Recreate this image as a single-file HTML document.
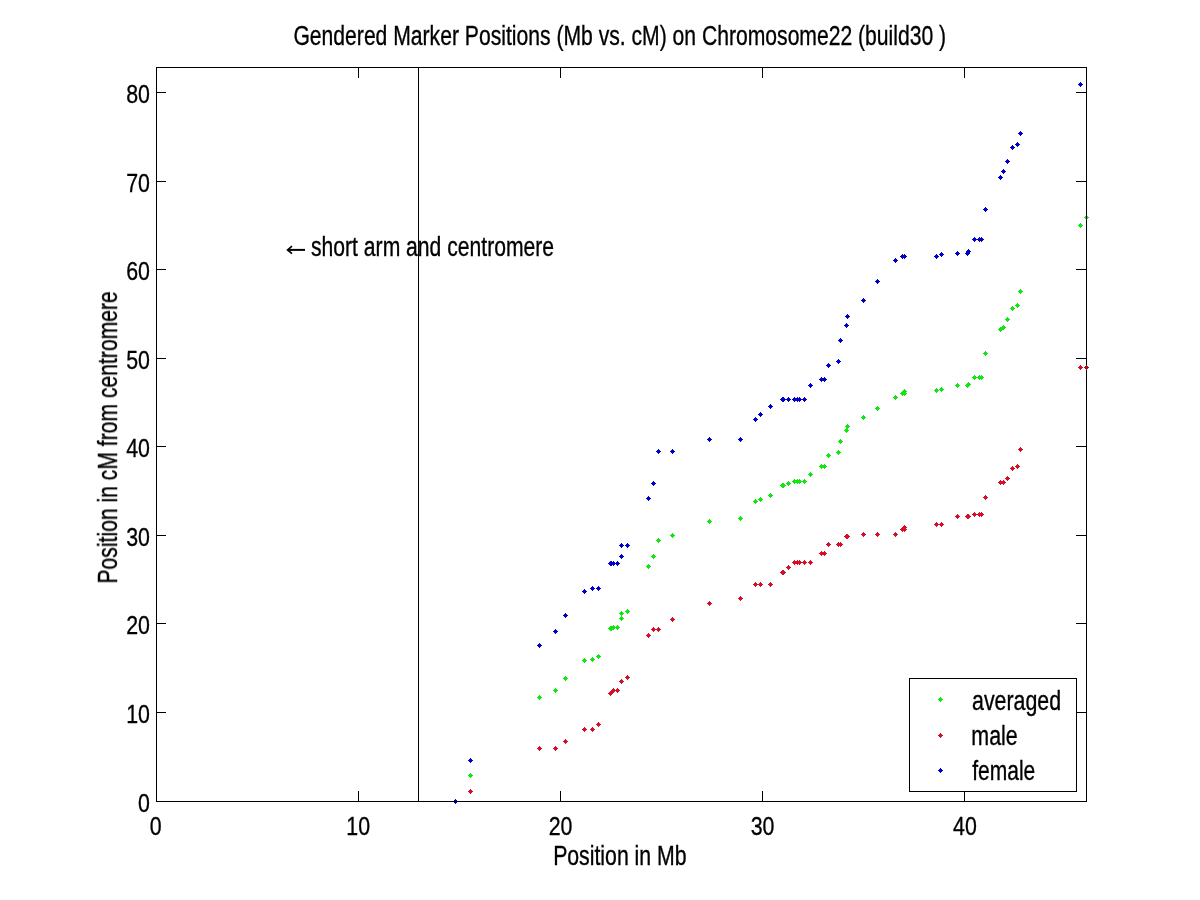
<!DOCTYPE html><html><head><meta charset="utf-8"><title>Gendered Marker Positions</title>
<style>html,body{margin:0;padding:0;background:#fff}svg{display:block}text{font-family:'Liberation Sans',sans-serif;font-size:27.2px;fill:#000;stroke:#000;stroke-width:0.35px;white-space:pre}</style></head><body>
<svg width="1200" height="900" viewBox="0 0 1200 900">
<rect width="1200" height="900" fill="#fff"/>
<g shape-rendering="crispEdges">
<path  fill="#10e610" d="M455 799h1v1h1v1h1v1h-1v1h-1v1h-1v-1h-1v-1h-1v-1h1v-1h1z"/>
<path  fill="#10e610" d="M470 773h1v1h1v1h1v1h-1v1h-1v1h-1v-1h-1v-1h-1v-1h1v-1h1z"/>
<path  fill="#10e610" d="M539 695h1v1h1v1h1v1h-1v1h-1v1h-1v-1h-1v-1h-1v-1h1v-1h1z"/>
<path  fill="#10e610" d="M555 688h1v1h1v1h1v1h-1v1h-1v1h-1v-1h-1v-1h-1v-1h1v-1h1z"/>
<path  fill="#10e610" d="M565 676h1v1h1v1h1v1h-1v1h-1v1h-1v-1h-1v-1h-1v-1h1v-1h1z"/>
<path  fill="#10e610" d="M584 658h1v1h1v1h1v1h-1v1h-1v1h-1v-1h-1v-1h-1v-1h1v-1h1z"/>
<path  fill="#10e610" d="M592 657h1v1h1v1h1v1h-1v1h-1v1h-1v-1h-1v-1h-1v-1h1v-1h1z"/>
<path  fill="#10e610" d="M598 654h1v1h1v1h1v1h-1v1h-1v1h-1v-1h-1v-1h-1v-1h1v-1h1z"/>
<path  fill="#10e610" d="M610 626h1v1h1v1h1v1h-1v1h-1v1h-1v-1h-1v-1h-1v-1h1v-1h1z"/>
<path  fill="#10e610" d="M611 626h1v1h1v1h1v1h-1v1h-1v1h-1v-1h-1v-1h-1v-1h1v-1h1z"/>
<path  fill="#10e610" d="M613 625h1v1h1v1h1v1h-1v1h-1v1h-1v-1h-1v-1h-1v-1h1v-1h1z"/>
<path  fill="#10e610" d="M617 625h1v1h1v1h1v1h-1v1h-1v1h-1v-1h-1v-1h-1v-1h1v-1h1z"/>
<path  fill="#10e610" d="M621 616h1v1h1v1h1v1h-1v1h-1v1h-1v-1h-1v-1h-1v-1h1v-1h1z"/>
<path  fill="#10e610" d="M621 611h1v1h1v1h1v1h-1v1h-1v1h-1v-1h-1v-1h-1v-1h1v-1h1z"/>
<path  fill="#10e610" d="M627 609h1v1h1v1h1v1h-1v1h-1v1h-1v-1h-1v-1h-1v-1h1v-1h1z"/>
<path  fill="#10e610" d="M648 564h1v1h1v1h1v1h-1v1h-1v1h-1v-1h-1v-1h-1v-1h1v-1h1z"/>
<path  fill="#10e610" d="M653 554h1v1h1v1h1v1h-1v1h-1v1h-1v-1h-1v-1h-1v-1h1v-1h1z"/>
<path  fill="#10e610" d="M658 538h1v1h1v1h1v1h-1v1h-1v1h-1v-1h-1v-1h-1v-1h1v-1h1z"/>
<path  fill="#10e610" d="M672 533h1v1h1v1h1v1h-1v1h-1v1h-1v-1h-1v-1h-1v-1h1v-1h1z"/>
<path  fill="#10e610" d="M709 519h1v1h1v1h1v1h-1v1h-1v1h-1v-1h-1v-1h-1v-1h1v-1h1z"/>
<path  fill="#10e610" d="M740 516h1v1h1v1h1v1h-1v1h-1v1h-1v-1h-1v-1h-1v-1h1v-1h1z"/>
<path  fill="#10e610" d="M755 499h1v1h1v1h1v1h-1v1h-1v1h-1v-1h-1v-1h-1v-1h1v-1h1z"/>
<path  fill="#10e610" d="M760 497h1v1h1v1h1v1h-1v1h-1v1h-1v-1h-1v-1h-1v-1h1v-1h1z"/>
<path  fill="#10e610" d="M770 493h1v1h1v1h1v1h-1v1h-1v1h-1v-1h-1v-1h-1v-1h1v-1h1z"/>
<path  fill="#10e610" d="M782 483h1v1h1v1h1v1h-1v1h-1v1h-1v-1h-1v-1h-1v-1h1v-1h1z"/>
<path  fill="#10e610" d="M783 483h1v1h1v1h1v1h-1v1h-1v1h-1v-1h-1v-1h-1v-1h1v-1h1z"/>
<path  fill="#10e610" d="M788 481h1v1h1v1h1v1h-1v1h-1v1h-1v-1h-1v-1h-1v-1h1v-1h1z"/>
<path  fill="#10e610" d="M794 479h1v1h1v1h1v1h-1v1h-1v1h-1v-1h-1v-1h-1v-1h1v-1h1z"/>
<path  fill="#10e610" d="M797 479h1v1h1v1h1v1h-1v1h-1v1h-1v-1h-1v-1h-1v-1h1v-1h1z"/>
<path  fill="#10e610" d="M799 479h1v1h1v1h1v1h-1v1h-1v1h-1v-1h-1v-1h-1v-1h1v-1h1z"/>
<path  fill="#10e610" d="M804 479h1v1h1v1h1v1h-1v1h-1v1h-1v-1h-1v-1h-1v-1h1v-1h1z"/>
<path  fill="#10e610" d="M810 472h1v1h1v1h1v1h-1v1h-1v1h-1v-1h-1v-1h-1v-1h1v-1h1z"/>
<path  fill="#10e610" d="M821 464h1v1h1v1h1v1h-1v1h-1v1h-1v-1h-1v-1h-1v-1h1v-1h1z"/>
<path  fill="#10e610" d="M824 464h1v1h1v1h1v1h-1v1h-1v1h-1v-1h-1v-1h-1v-1h1v-1h1z"/>
<path  fill="#10e610" d="M828 453h1v1h1v1h1v1h-1v1h-1v1h-1v-1h-1v-1h-1v-1h1v-1h1z"/>
<path  fill="#10e610" d="M838 450h1v1h1v1h1v1h-1v1h-1v1h-1v-1h-1v-1h-1v-1h1v-1h1z"/>
<path  fill="#10e610" d="M840 439h1v1h1v1h1v1h-1v1h-1v1h-1v-1h-1v-1h-1v-1h1v-1h1z"/>
<path  fill="#10e610" d="M846 428h1v1h1v1h1v1h-1v1h-1v1h-1v-1h-1v-1h-1v-1h1v-1h1z"/>
<path  fill="#10e610" d="M847 424h1v1h1v1h1v1h-1v1h-1v1h-1v-1h-1v-1h-1v-1h1v-1h1z"/>
<path  fill="#10e610" d="M863 415h1v1h1v1h1v1h-1v1h-1v1h-1v-1h-1v-1h-1v-1h1v-1h1z"/>
<path  fill="#10e610" d="M877 406h1v1h1v1h1v1h-1v1h-1v1h-1v-1h-1v-1h-1v-1h1v-1h1z"/>
<path  fill="#10e610" d="M895 395h1v1h1v1h1v1h-1v1h-1v1h-1v-1h-1v-1h-1v-1h1v-1h1z"/>
<path  fill="#10e610" d="M902 391h1v1h1v1h1v1h-1v1h-1v1h-1v-1h-1v-1h-1v-1h1v-1h1z"/>
<path  fill="#10e610" d="M904 389h1v1h1v1h1v1h-1v1h-1v1h-1v-1h-1v-1h-1v-1h1v-1h1z"/>
<path  fill="#10e610" d="M904 391h1v1h1v1h1v1h-1v1h-1v1h-1v-1h-1v-1h-1v-1h1v-1h1z"/>
<path  fill="#10e610" d="M936 388h1v1h1v1h1v1h-1v1h-1v1h-1v-1h-1v-1h-1v-1h1v-1h1z"/>
<path  fill="#10e610" d="M941 387h1v1h1v1h1v1h-1v1h-1v1h-1v-1h-1v-1h-1v-1h1v-1h1z"/>
<path  fill="#10e610" d="M957 383h1v1h1v1h1v1h-1v1h-1v1h-1v-1h-1v-1h-1v-1h1v-1h1z"/>
<path  fill="#10e610" d="M967 383h1v1h1v1h1v1h-1v1h-1v1h-1v-1h-1v-1h-1v-1h1v-1h1z"/>
<path  fill="#10e610" d="M968 382h1v1h1v1h1v1h-1v1h-1v1h-1v-1h-1v-1h-1v-1h1v-1h1z"/>
<path  fill="#10e610" d="M974 375h1v1h1v1h1v1h-1v1h-1v1h-1v-1h-1v-1h-1v-1h1v-1h1z"/>
<path  fill="#10e610" d="M979 375h1v1h1v1h1v1h-1v1h-1v1h-1v-1h-1v-1h-1v-1h1v-1h1z"/>
<path  fill="#10e610" d="M981 375h1v1h1v1h1v1h-1v1h-1v1h-1v-1h-1v-1h-1v-1h1v-1h1z"/>
<path  fill="#10e610" d="M985 351h1v1h1v1h1v1h-1v1h-1v1h-1v-1h-1v-1h-1v-1h1v-1h1z"/>
<path  fill="#10e610" d="M1000 327h1v1h1v1h1v1h-1v1h-1v1h-1v-1h-1v-1h-1v-1h1v-1h1z"/>
<path  fill="#10e610" d="M1003 325h1v1h1v1h1v1h-1v1h-1v1h-1v-1h-1v-1h-1v-1h1v-1h1z"/>
<path  fill="#10e610" d="M1007 317h1v1h1v1h1v1h-1v1h-1v1h-1v-1h-1v-1h-1v-1h1v-1h1z"/>
<path  fill="#10e610" d="M1012 306h1v1h1v1h1v1h-1v1h-1v1h-1v-1h-1v-1h-1v-1h1v-1h1z"/>
<path  fill="#10e610" d="M1017 303h1v1h1v1h1v1h-1v1h-1v1h-1v-1h-1v-1h-1v-1h1v-1h1z"/>
<path  fill="#10e610" d="M1020 289h1v1h1v1h1v1h-1v1h-1v1h-1v-1h-1v-1h-1v-1h1v-1h1z"/>
<path  fill="#10e610" d="M1080 223h1v1h1v1h1v1h-1v1h-1v1h-1v-1h-1v-1h-1v-1h1v-1h1z"/>
<path  fill="#d80e26" d="M455 799h1v1h1v1h1v1h-1v1h-1v1h-1v-1h-1v-1h-1v-1h1v-1h1z"/>
<path  fill="#d80e26" d="M470 789h1v1h1v1h1v1h-1v1h-1v1h-1v-1h-1v-1h-1v-1h1v-1h1z"/>
<path  fill="#d80e26" d="M539 746h1v1h1v1h1v1h-1v1h-1v1h-1v-1h-1v-1h-1v-1h1v-1h1z"/>
<path  fill="#d80e26" d="M555 746h1v1h1v1h1v1h-1v1h-1v1h-1v-1h-1v-1h-1v-1h1v-1h1z"/>
<path  fill="#d80e26" d="M565 739h1v1h1v1h1v1h-1v1h-1v1h-1v-1h-1v-1h-1v-1h1v-1h1z"/>
<path  fill="#d80e26" d="M584 727h1v1h1v1h1v1h-1v1h-1v1h-1v-1h-1v-1h-1v-1h1v-1h1z"/>
<path  fill="#d80e26" d="M592 727h1v1h1v1h1v1h-1v1h-1v1h-1v-1h-1v-1h-1v-1h1v-1h1z"/>
<path  fill="#d80e26" d="M598 722h1v1h1v1h1v1h-1v1h-1v1h-1v-1h-1v-1h-1v-1h1v-1h1z"/>
<path  fill="#d80e26" d="M610 691h1v1h1v1h1v1h-1v1h-1v1h-1v-1h-1v-1h-1v-1h1v-1h1z"/>
<path  fill="#d80e26" d="M611 690h1v1h1v1h1v1h-1v1h-1v1h-1v-1h-1v-1h-1v-1h1v-1h1z"/>
<path  fill="#d80e26" d="M613 688h1v1h1v1h1v1h-1v1h-1v1h-1v-1h-1v-1h-1v-1h1v-1h1z"/>
<path  fill="#d80e26" d="M617 688h1v1h1v1h1v1h-1v1h-1v1h-1v-1h-1v-1h-1v-1h1v-1h1z"/>
<path  fill="#d80e26" d="M621 679h1v1h1v1h1v1h-1v1h-1v1h-1v-1h-1v-1h-1v-1h1v-1h1z"/>
<path  fill="#d80e26" d="M621 679h1v1h1v1h1v1h-1v1h-1v1h-1v-1h-1v-1h-1v-1h1v-1h1z"/>
<path  fill="#d80e26" d="M627 675h1v1h1v1h1v1h-1v1h-1v1h-1v-1h-1v-1h-1v-1h1v-1h1z"/>
<path  fill="#d80e26" d="M648 633h1v1h1v1h1v1h-1v1h-1v1h-1v-1h-1v-1h-1v-1h1v-1h1z"/>
<path  fill="#d80e26" d="M653 627h1v1h1v1h1v1h-1v1h-1v1h-1v-1h-1v-1h-1v-1h1v-1h1z"/>
<path  fill="#d80e26" d="M658 627h1v1h1v1h1v1h-1v1h-1v1h-1v-1h-1v-1h-1v-1h1v-1h1z"/>
<path  fill="#d80e26" d="M672 617h1v1h1v1h1v1h-1v1h-1v1h-1v-1h-1v-1h-1v-1h1v-1h1z"/>
<path  fill="#d80e26" d="M709 601h1v1h1v1h1v1h-1v1h-1v1h-1v-1h-1v-1h-1v-1h1v-1h1z"/>
<path  fill="#d80e26" d="M740 596h1v1h1v1h1v1h-1v1h-1v1h-1v-1h-1v-1h-1v-1h1v-1h1z"/>
<path  fill="#d80e26" d="M755 582h1v1h1v1h1v1h-1v1h-1v1h-1v-1h-1v-1h-1v-1h1v-1h1z"/>
<path  fill="#d80e26" d="M760 582h1v1h1v1h1v1h-1v1h-1v1h-1v-1h-1v-1h-1v-1h1v-1h1z"/>
<path  fill="#d80e26" d="M770 582h1v1h1v1h1v1h-1v1h-1v1h-1v-1h-1v-1h-1v-1h1v-1h1z"/>
<path  fill="#d80e26" d="M782 570h1v1h1v1h1v1h-1v1h-1v1h-1v-1h-1v-1h-1v-1h1v-1h1z"/>
<path  fill="#d80e26" d="M783 570h1v1h1v1h1v1h-1v1h-1v1h-1v-1h-1v-1h-1v-1h1v-1h1z"/>
<path  fill="#d80e26" d="M788 565h1v1h1v1h1v1h-1v1h-1v1h-1v-1h-1v-1h-1v-1h1v-1h1z"/>
<path  fill="#d80e26" d="M794 560h1v1h1v1h1v1h-1v1h-1v1h-1v-1h-1v-1h-1v-1h1v-1h1z"/>
<path  fill="#d80e26" d="M797 560h1v1h1v1h1v1h-1v1h-1v1h-1v-1h-1v-1h-1v-1h1v-1h1z"/>
<path  fill="#d80e26" d="M799 560h1v1h1v1h1v1h-1v1h-1v1h-1v-1h-1v-1h-1v-1h1v-1h1z"/>
<path  fill="#d80e26" d="M804 560h1v1h1v1h1v1h-1v1h-1v1h-1v-1h-1v-1h-1v-1h1v-1h1z"/>
<path  fill="#d80e26" d="M810 560h1v1h1v1h1v1h-1v1h-1v1h-1v-1h-1v-1h-1v-1h1v-1h1z"/>
<path  fill="#d80e26" d="M821 551h1v1h1v1h1v1h-1v1h-1v1h-1v-1h-1v-1h-1v-1h1v-1h1z"/>
<path  fill="#d80e26" d="M824 551h1v1h1v1h1v1h-1v1h-1v1h-1v-1h-1v-1h-1v-1h1v-1h1z"/>
<path  fill="#d80e26" d="M828 542h1v1h1v1h1v1h-1v1h-1v1h-1v-1h-1v-1h-1v-1h1v-1h1z"/>
<path  fill="#d80e26" d="M838 542h1v1h1v1h1v1h-1v1h-1v1h-1v-1h-1v-1h-1v-1h1v-1h1z"/>
<path  fill="#d80e26" d="M840 542h1v1h1v1h1v1h-1v1h-1v1h-1v-1h-1v-1h-1v-1h1v-1h1z"/>
<path  fill="#d80e26" d="M846 534h1v1h1v1h1v1h-1v1h-1v1h-1v-1h-1v-1h-1v-1h1v-1h1z"/>
<path  fill="#d80e26" d="M847 534h1v1h1v1h1v1h-1v1h-1v1h-1v-1h-1v-1h-1v-1h1v-1h1z"/>
<path  fill="#d80e26" d="M863 532h1v1h1v1h1v1h-1v1h-1v1h-1v-1h-1v-1h-1v-1h1v-1h1z"/>
<path  fill="#d80e26" d="M877 532h1v1h1v1h1v1h-1v1h-1v1h-1v-1h-1v-1h-1v-1h1v-1h1z"/>
<path  fill="#d80e26" d="M895 532h1v1h1v1h1v1h-1v1h-1v1h-1v-1h-1v-1h-1v-1h1v-1h1z"/>
<path  fill="#d80e26" d="M902 527h1v1h1v1h1v1h-1v1h-1v1h-1v-1h-1v-1h-1v-1h1v-1h1z"/>
<path  fill="#d80e26" d="M904 525h1v1h1v1h1v1h-1v1h-1v1h-1v-1h-1v-1h-1v-1h1v-1h1z"/>
<path  fill="#d80e26" d="M904 527h1v1h1v1h1v1h-1v1h-1v1h-1v-1h-1v-1h-1v-1h1v-1h1z"/>
<path  fill="#d80e26" d="M936 522h1v1h1v1h1v1h-1v1h-1v1h-1v-1h-1v-1h-1v-1h1v-1h1z"/>
<path  fill="#d80e26" d="M941 522h1v1h1v1h1v1h-1v1h-1v1h-1v-1h-1v-1h-1v-1h1v-1h1z"/>
<path  fill="#d80e26" d="M957 514h1v1h1v1h1v1h-1v1h-1v1h-1v-1h-1v-1h-1v-1h1v-1h1z"/>
<path  fill="#d80e26" d="M967 514h1v1h1v1h1v1h-1v1h-1v1h-1v-1h-1v-1h-1v-1h1v-1h1z"/>
<path  fill="#d80e26" d="M968 514h1v1h1v1h1v1h-1v1h-1v1h-1v-1h-1v-1h-1v-1h1v-1h1z"/>
<path  fill="#d80e26" d="M974 512h1v1h1v1h1v1h-1v1h-1v1h-1v-1h-1v-1h-1v-1h1v-1h1z"/>
<path  fill="#d80e26" d="M979 512h1v1h1v1h1v1h-1v1h-1v1h-1v-1h-1v-1h-1v-1h1v-1h1z"/>
<path  fill="#d80e26" d="M981 512h1v1h1v1h1v1h-1v1h-1v1h-1v-1h-1v-1h-1v-1h1v-1h1z"/>
<path  fill="#d80e26" d="M985 495h1v1h1v1h1v1h-1v1h-1v1h-1v-1h-1v-1h-1v-1h1v-1h1z"/>
<path  fill="#d80e26" d="M1000 480h1v1h1v1h1v1h-1v1h-1v1h-1v-1h-1v-1h-1v-1h1v-1h1z"/>
<path  fill="#d80e26" d="M1003 480h1v1h1v1h1v1h-1v1h-1v1h-1v-1h-1v-1h-1v-1h1v-1h1z"/>
<path  fill="#d80e26" d="M1007 476h1v1h1v1h1v1h-1v1h-1v1h-1v-1h-1v-1h-1v-1h1v-1h1z"/>
<path  fill="#d80e26" d="M1012 466h1v1h1v1h1v1h-1v1h-1v1h-1v-1h-1v-1h-1v-1h1v-1h1z"/>
<path  fill="#d80e26" d="M1017 464h1v1h1v1h1v1h-1v1h-1v1h-1v-1h-1v-1h-1v-1h1v-1h1z"/>
<path  fill="#d80e26" d="M1020 447h1v1h1v1h1v1h-1v1h-1v1h-1v-1h-1v-1h-1v-1h1v-1h1z"/>
<path  fill="#d80e26" d="M1080 365h1v1h1v1h1v1h-1v1h-1v1h-1v-1h-1v-1h-1v-1h1v-1h1z"/>
<path  fill="#0000cc" d="M455 799h1v1h1v1h1v1h-1v1h-1v1h-1v-1h-1v-1h-1v-1h1v-1h1z"/>
<path  fill="#0000cc" d="M470 758h1v1h1v1h1v1h-1v1h-1v1h-1v-1h-1v-1h-1v-1h1v-1h1z"/>
<path  fill="#0000cc" d="M539 643h1v1h1v1h1v1h-1v1h-1v1h-1v-1h-1v-1h-1v-1h1v-1h1z"/>
<path  fill="#0000cc" d="M555 629h1v1h1v1h1v1h-1v1h-1v1h-1v-1h-1v-1h-1v-1h1v-1h1z"/>
<path  fill="#0000cc" d="M565 613h1v1h1v1h1v1h-1v1h-1v1h-1v-1h-1v-1h-1v-1h1v-1h1z"/>
<path  fill="#0000cc" d="M584 589h1v1h1v1h1v1h-1v1h-1v1h-1v-1h-1v-1h-1v-1h1v-1h1z"/>
<path  fill="#0000cc" d="M592 586h1v1h1v1h1v1h-1v1h-1v1h-1v-1h-1v-1h-1v-1h1v-1h1z"/>
<path  fill="#0000cc" d="M598 586h1v1h1v1h1v1h-1v1h-1v1h-1v-1h-1v-1h-1v-1h1v-1h1z"/>
<path  fill="#0000cc" d="M610 561h1v1h1v1h1v1h-1v1h-1v1h-1v-1h-1v-1h-1v-1h1v-1h1z"/>
<path  fill="#0000cc" d="M611 561h1v1h1v1h1v1h-1v1h-1v1h-1v-1h-1v-1h-1v-1h1v-1h1z"/>
<path  fill="#0000cc" d="M613 561h1v1h1v1h1v1h-1v1h-1v1h-1v-1h-1v-1h-1v-1h1v-1h1z"/>
<path  fill="#0000cc" d="M617 561h1v1h1v1h1v1h-1v1h-1v1h-1v-1h-1v-1h-1v-1h1v-1h1z"/>
<path  fill="#0000cc" d="M621 554h1v1h1v1h1v1h-1v1h-1v1h-1v-1h-1v-1h-1v-1h1v-1h1z"/>
<path  fill="#0000cc" d="M621 543h1v1h1v1h1v1h-1v1h-1v1h-1v-1h-1v-1h-1v-1h1v-1h1z"/>
<path  fill="#0000cc" d="M627 543h1v1h1v1h1v1h-1v1h-1v1h-1v-1h-1v-1h-1v-1h1v-1h1z"/>
<path  fill="#0000cc" d="M648 496h1v1h1v1h1v1h-1v1h-1v1h-1v-1h-1v-1h-1v-1h1v-1h1z"/>
<path  fill="#0000cc" d="M653 481h1v1h1v1h1v1h-1v1h-1v1h-1v-1h-1v-1h-1v-1h1v-1h1z"/>
<path  fill="#0000cc" d="M658 449h1v1h1v1h1v1h-1v1h-1v1h-1v-1h-1v-1h-1v-1h1v-1h1z"/>
<path  fill="#0000cc" d="M672 449h1v1h1v1h1v1h-1v1h-1v1h-1v-1h-1v-1h-1v-1h1v-1h1z"/>
<path  fill="#0000cc" d="M709 437h1v1h1v1h1v1h-1v1h-1v1h-1v-1h-1v-1h-1v-1h1v-1h1z"/>
<path  fill="#0000cc" d="M740 437h1v1h1v1h1v1h-1v1h-1v1h-1v-1h-1v-1h-1v-1h1v-1h1z"/>
<path  fill="#0000cc" d="M755 417h1v1h1v1h1v1h-1v1h-1v1h-1v-1h-1v-1h-1v-1h1v-1h1z"/>
<path  fill="#0000cc" d="M760 412h1v1h1v1h1v1h-1v1h-1v1h-1v-1h-1v-1h-1v-1h1v-1h1z"/>
<path  fill="#0000cc" d="M770 404h1v1h1v1h1v1h-1v1h-1v1h-1v-1h-1v-1h-1v-1h1v-1h1z"/>
<path  fill="#0000cc" d="M782 397h1v1h1v1h1v1h-1v1h-1v1h-1v-1h-1v-1h-1v-1h1v-1h1z"/>
<path  fill="#0000cc" d="M783 397h1v1h1v1h1v1h-1v1h-1v1h-1v-1h-1v-1h-1v-1h1v-1h1z"/>
<path  fill="#0000cc" d="M788 397h1v1h1v1h1v1h-1v1h-1v1h-1v-1h-1v-1h-1v-1h1v-1h1z"/>
<path  fill="#0000cc" d="M794 397h1v1h1v1h1v1h-1v1h-1v1h-1v-1h-1v-1h-1v-1h1v-1h1z"/>
<path  fill="#0000cc" d="M797 397h1v1h1v1h1v1h-1v1h-1v1h-1v-1h-1v-1h-1v-1h1v-1h1z"/>
<path  fill="#0000cc" d="M799 397h1v1h1v1h1v1h-1v1h-1v1h-1v-1h-1v-1h-1v-1h1v-1h1z"/>
<path  fill="#0000cc" d="M804 397h1v1h1v1h1v1h-1v1h-1v1h-1v-1h-1v-1h-1v-1h1v-1h1z"/>
<path  fill="#0000cc" d="M810 383h1v1h1v1h1v1h-1v1h-1v1h-1v-1h-1v-1h-1v-1h1v-1h1z"/>
<path  fill="#0000cc" d="M821 377h1v1h1v1h1v1h-1v1h-1v1h-1v-1h-1v-1h-1v-1h1v-1h1z"/>
<path  fill="#0000cc" d="M824 377h1v1h1v1h1v1h-1v1h-1v1h-1v-1h-1v-1h-1v-1h1v-1h1z"/>
<path  fill="#0000cc" d="M828 363h1v1h1v1h1v1h-1v1h-1v1h-1v-1h-1v-1h-1v-1h1v-1h1z"/>
<path  fill="#0000cc" d="M838 359h1v1h1v1h1v1h-1v1h-1v1h-1v-1h-1v-1h-1v-1h1v-1h1z"/>
<path  fill="#0000cc" d="M840 338h1v1h1v1h1v1h-1v1h-1v1h-1v-1h-1v-1h-1v-1h1v-1h1z"/>
<path  fill="#0000cc" d="M846 323h1v1h1v1h1v1h-1v1h-1v1h-1v-1h-1v-1h-1v-1h1v-1h1z"/>
<path  fill="#0000cc" d="M847 314h1v1h1v1h1v1h-1v1h-1v1h-1v-1h-1v-1h-1v-1h1v-1h1z"/>
<path  fill="#0000cc" d="M863 298h1v1h1v1h1v1h-1v1h-1v1h-1v-1h-1v-1h-1v-1h1v-1h1z"/>
<path  fill="#0000cc" d="M877 279h1v1h1v1h1v1h-1v1h-1v1h-1v-1h-1v-1h-1v-1h1v-1h1z"/>
<path  fill="#0000cc" d="M895 258h1v1h1v1h1v1h-1v1h-1v1h-1v-1h-1v-1h-1v-1h1v-1h1z"/>
<path  fill="#0000cc" d="M902 254h1v1h1v1h1v1h-1v1h-1v1h-1v-1h-1v-1h-1v-1h1v-1h1z"/>
<path  fill="#0000cc" d="M904 254h1v1h1v1h1v1h-1v1h-1v1h-1v-1h-1v-1h-1v-1h1v-1h1z"/>
<path  fill="#0000cc" d="M904 254h1v1h1v1h1v1h-1v1h-1v1h-1v-1h-1v-1h-1v-1h1v-1h1z"/>
<path  fill="#0000cc" d="M936 254h1v1h1v1h1v1h-1v1h-1v1h-1v-1h-1v-1h-1v-1h1v-1h1z"/>
<path  fill="#0000cc" d="M941 252h1v1h1v1h1v1h-1v1h-1v1h-1v-1h-1v-1h-1v-1h1v-1h1z"/>
<path  fill="#0000cc" d="M957 251h1v1h1v1h1v1h-1v1h-1v1h-1v-1h-1v-1h-1v-1h1v-1h1z"/>
<path  fill="#0000cc" d="M967 251h1v1h1v1h1v1h-1v1h-1v1h-1v-1h-1v-1h-1v-1h1v-1h1z"/>
<path  fill="#0000cc" d="M968 249h1v1h1v1h1v1h-1v1h-1v1h-1v-1h-1v-1h-1v-1h1v-1h1z"/>
<path  fill="#0000cc" d="M974 237h1v1h1v1h1v1h-1v1h-1v1h-1v-1h-1v-1h-1v-1h1v-1h1z"/>
<path  fill="#0000cc" d="M979 237h1v1h1v1h1v1h-1v1h-1v1h-1v-1h-1v-1h-1v-1h1v-1h1z"/>
<path  fill="#0000cc" d="M981 237h1v1h1v1h1v1h-1v1h-1v1h-1v-1h-1v-1h-1v-1h1v-1h1z"/>
<path  fill="#0000cc" d="M985 207h1v1h1v1h1v1h-1v1h-1v1h-1v-1h-1v-1h-1v-1h1v-1h1z"/>
<path  fill="#0000cc" d="M1000 175h1v1h1v1h1v1h-1v1h-1v1h-1v-1h-1v-1h-1v-1h1v-1h1z"/>
<path  fill="#0000cc" d="M1003 169h1v1h1v1h1v1h-1v1h-1v1h-1v-1h-1v-1h-1v-1h1v-1h1z"/>
<path  fill="#0000cc" d="M1007 159h1v1h1v1h1v1h-1v1h-1v1h-1v-1h-1v-1h-1v-1h1v-1h1z"/>
<path  fill="#0000cc" d="M1012 145h1v1h1v1h1v1h-1v1h-1v1h-1v-1h-1v-1h-1v-1h1v-1h1z"/>
<path  fill="#0000cc" d="M1017 142h1v1h1v1h1v1h-1v1h-1v1h-1v-1h-1v-1h-1v-1h1v-1h1z"/>
<path  fill="#0000cc" d="M1020 131h1v1h1v1h1v1h-1v1h-1v1h-1v-1h-1v-1h-1v-1h1v-1h1z"/>
<path  fill="#0000cc" d="M1080 82h1v1h1v1h1v1h-1v1h-1v1h-1v-1h-1v-1h-1v-1h1v-1h1z"/>
<g fill="#000">
<rect x="156" y="67" width="931" height="1"/>
<rect x="156" y="801" width="931" height="1"/>
<rect x="156" y="67" width="1" height="735"/>
<rect x="1086" y="67" width="1" height="735"/>
<rect x="418" y="67" width="1" height="735"/>
<rect x="358" y="791" width="1" height="10"/>
<rect x="358" y="68" width="1" height="10"/>
<rect x="560" y="791" width="1" height="10"/>
<rect x="560" y="68" width="1" height="10"/>
<rect x="762" y="791" width="1" height="10"/>
<rect x="762" y="68" width="1" height="10"/>
<rect x="964" y="791" width="1" height="10"/>
<rect x="964" y="68" width="1" height="10"/>
<rect x="157" y="712" width="9" height="1"/>
<rect x="1076" y="712" width="10" height="1"/>
<rect x="157" y="623" width="9" height="1"/>
<rect x="1076" y="623" width="10" height="1"/>
<rect x="157" y="535" width="9" height="1"/>
<rect x="1076" y="535" width="10" height="1"/>
<rect x="157" y="446" width="9" height="1"/>
<rect x="1076" y="446" width="10" height="1"/>
<rect x="157" y="358" width="9" height="1"/>
<rect x="1076" y="358" width="10" height="1"/>
<rect x="157" y="269" width="9" height="1"/>
<rect x="1076" y="269" width="10" height="1"/>
<rect x="157" y="181" width="9" height="1"/>
<rect x="1076" y="181" width="10" height="1"/>
<rect x="157" y="92" width="9" height="1"/>
<rect x="1076" y="92" width="10" height="1"/>
<rect x="909" y="678" width="168" height="114"/>
<rect x="910" y="679" width="166" height="112" fill="#fff"/>
</g>
<path  fill="#10e610" d="M940 697h1v1h1v1h1v1h-1v1h-1v1h-1v-1h-1v-1h-1v-1h1v-1h1z"/>
<path  fill="#d80e26" d="M940 733h1v1h1v1h1v1h-1v1h-1v1h-1v-1h-1v-1h-1v-1h1v-1h1z"/>
<path  fill="#0000cc" d="M940 768h1v1h1v1h1v1h-1v1h-1v1h-1v-1h-1v-1h-1v-1h1v-1h1z"/>
<path  fill="#b00c20" d="M1086 365h1v1h1v1h1v1h-1v1h-1v1h-1v-1h-1v-1h-1v-1h1v-1h1z"/>
<path fill="#52c452" d="M1084 217h5v1h-5zM1085 216h3v3h-3z"/>
<rect x="1086" y="215" width="1" height="5" fill="#0c260c"/>
</g>
<g fill="none" stroke="#000"><path d="M305 249.9H288" stroke-width="2"/><path d="M292 246.2L287.6 249.9L292 253.7" stroke-width="1.7"/></g>
<defs><filter id="gs" x="0" y="0" width="1200" height="900" filterUnits="userSpaceOnUse" color-interpolation-filters="sRGB"><feColorMatrix type="saturate" values="0"/></filter></defs>
<g filter="url(#gs)">
<text transform="translate(293.42 45) scale(0.7770 1)" xml:space="preserve">Gendered Marker Positions (Mb vs. cM) on Chromosome22 (build30 )</text>
<text transform="translate(553.14 865) scale(0.7815 1)" xml:space="preserve">Position in Mb</text>
<text transform="translate(972.01 709.6) scale(0.7856 1)" xml:space="preserve">averaged</text>
<text transform="translate(971.32 744.9) scale(0.7875 1)" xml:space="preserve">male</text>
<text transform="translate(972.20 779.8) scale(0.7728 1)" xml:space="preserve">female</text>
<text transform="translate(311.02 255.7) scale(0.7772 1)" xml:space="preserve">short arm and centromere</text>
<text transform="translate(138.01 812) scale(0.785 0.97)">0</text>
<text transform="translate(126.23 723) scale(0.785 0.97)">10</text>
<text transform="translate(126.23 634) scale(0.785 0.97)">20</text>
<text transform="translate(126.23 546) scale(0.785 0.97)">30</text>
<text transform="translate(126.23 457) scale(0.785 0.97)">40</text>
<text transform="translate(126.23 369) scale(0.785 0.97)">50</text>
<text transform="translate(126.23 280) scale(0.785 0.97)">60</text>
<text transform="translate(126.23 192) scale(0.785 0.97)">70</text>
<text transform="translate(126.23 103) scale(0.785 0.97)">80</text>
<text transform="translate(149.71 834.8) scale(0.785 0.97)">0</text>
<text transform="translate(346.33 834.8) scale(0.785 0.97)">10</text>
<text transform="translate(548.73 834.8) scale(0.785 0.97)">20</text>
<text transform="translate(750.73 834.8) scale(0.785 0.97)">30</text>
<text transform="translate(953.12 834.8) scale(0.785 0.97)">40</text>
<text transform="translate(117 583.55) rotate(-90) scale(0.7767 1)">Position in cM from centromere</text>
</g>
</svg></body></html>
